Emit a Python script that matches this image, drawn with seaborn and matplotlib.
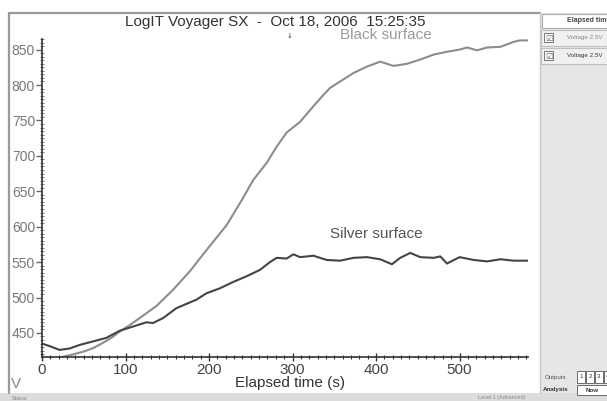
import matplotlib
matplotlib.use("Agg")
import matplotlib.pyplot as plt
from matplotlib.patches import Rectangle
from matplotlib.ticker import MultipleLocator
import seaborn as sns
import pandas as pd

# ---- data ----
black_time = [0, 20, 35, 51, 62, 73, 83, 93, 105, 117, 137, 157, 177, 197, 221, 239, 253, 269, 281, 293,
              309, 325, 337, 345, 357, 373, 389, 405, 421, 437, 453, 469, 485, 500, 509, 521, 533, 549, 565, 572, 582]
black_volt = [412, 415, 419, 424, 429, 436, 443, 452, 461, 471, 488, 511, 537, 567, 602, 637, 666, 690, 713, 733,
              748, 770, 786, 796, 805, 817, 826, 833, 827, 830, 836, 843, 847, 850, 853, 849, 853, 854, 861, 863, 863]
silver_time = [0, 10, 21, 33, 45, 61, 77, 93, 109, 125, 133, 145, 161, 177, 185, 197, 213, 229, 245, 261,
               273, 281, 293, 301, 309, 325, 341, 357, 373, 389, 405, 419, 429, 441, 453, 469, 477, 485, 500, 517,
               533, 549, 565, 582]
silver_volt = [435, 431, 426, 428, 433, 438, 443, 453, 459, 465, 464, 471, 485, 493, 497, 506, 513, 522, 530, 539,
               550, 556, 555, 561, 557, 559, 553, 552, 556, 557, 554, 547, 556, 563, 557, 556, 558, 548, 557, 553,
               551, 554, 552, 552]
x_ticks = [0, 100, 200, 300, 400, 500]
y_ticks = [450, 500, 550, 600, 650, 700, 750, 800, 850]
title = "LogIT Voyager SX  -  Oct 18, 2006  15:25:35"

df = pd.concat([
    pd.DataFrame({"t": black_time, "v": black_volt, "s": "Black surface"}),
    pd.DataFrame({"t": silver_time, "v": silver_volt, "s": "Silver surface"}),
])

sns.set_style("white")
plt.rcParams['font.family'] = ['Liberation Sans', 'DejaVu Sans']

W, H = 607, 401
fig = plt.figure(figsize=(W / 100, H / 100), dpi=100)
fig.patch.set_facecolor("white")


def fx(x):
    return x / W


def fy(y):
    return 1 - y / H


def rect(x0, y0, x1, y1, fc, ec="none", lw=0.8, z=0):
    fig.patches.append(Rectangle((fx(x0), fy(y1)), fx(x1) - fx(x0), fy(y0) - fy(y1),
                                 transform=fig.transFigure, facecolor=fc, edgecolor=ec,
                                 linewidth=lw, zorder=z))


# window chrome
rect(540, 13, 607, 393, "#e6e6e6")
rect(0, 393, 607, 401, "#dcdcdc")
fig.lines.append(plt.Line2D([fx(9), fx(9)], [fy(13), fy(393)], transform=fig.transFigure, color="#9a9a9a", lw=1.6))
fig.lines.append(plt.Line2D([fx(9), fx(540)], [fy(13), fy(13)], transform=fig.transFigure, color="#9a9a9a", lw=1.6))
fig.lines.append(plt.Line2D([fx(540), fx(540)], [fy(13), fy(393)], transform=fig.transFigure, color="#c8c8c8", lw=1.0))

# side panel
rect(542, 14, 607, 28, "white", "#aaaaaa")
fig.text(fx(567), fy(21), "Elapsed time", fontsize=5, fontweight="bold", color="#444444", va="center")
for yy, col in [(38, "#888888"), (56, "#333333")]:
    rect(541, yy - 8, 607, yy + 8, "#f0f0f0", "#c0c0c0")
    rect(544, yy - 5, 553, yy + 4, "white", "#777777", lw=0.7)
    fig.text(fx(545), fy(yy), "☑", fontsize=6, color="#666666", va="center", family=["DejaVu Sans"])
    fig.text(fx(567), fy(yy), "Voltage 2.5V", fontsize=4.5, color=col, va="center")
fig.text(fx(545), fy(377), "Outputs", fontsize=4.5, color="#555555", va="center")
for i in range(4):
    rect(577 + i * 9, 371, 585 + i * 9, 383, "white", "#555555", lw=0.6)
    fig.text(fx(581 + i * 9), fy(377), str(i + 1), fontsize=4.5, ha="center", va="center", color="#333333")
fig.text(fx(543), fy(390), "Analysis", fontsize=4.5, fontweight="bold", color="#333333", va="center")
rect(577, 385, 607, 395, "white", "#555555", lw=0.6)
fig.text(fx(592), fy(390), "Now", fontsize=4.5, fontweight="bold", ha="center", va="center", color="#333333")
fig.text(fx(12), fy(398), "Status", fontsize=4, color="#888888", va="center")
fig.text(fx(478), fy(398), "Level 1 (Advanced)", fontsize=4, color="#888888", va="center")

# plot area
ax = fig.add_axes([fx(42), fy(357), fx(528) - fx(42), fy(39) - fy(357)])
ax.set_facecolor("none")
sns.lineplot(data=df, x="t", y="v", hue="s", palette={"Black surface": "#8c8c8c", "Silver surface": "#444444"},
             linewidth=1.5, legend=False, ax=ax, estimator=None, sort=False)
ax.set_xlim(0, 582)
ax.set_ylim(416, 865)
ax.set_xticks(x_ticks)
ax.set_yticks(y_ticks)
ax.xaxis.set_minor_locator(MultipleLocator(10))
ax.yaxis.set_minor_locator(MultipleLocator(5))
ax.set_xlabel("")
ax.set_ylabel("")
for s in ["top", "right"]:
    ax.spines[s].set_visible(False)
for s in ["left", "bottom"]:
    ax.spines[s].set_color("#333333")
    ax.spines[s].set_linewidth(1.2)
ax.tick_params(axis="x", which="major", direction="inout", length=6, width=1, colors="#333333",
               labelsize=11, labelcolor="#444444", pad=1)
ax.tick_params(axis="y", which="major", direction="out", length=4, width=1, colors="#666666",
               labelsize=10, labelcolor="#777777", pad=1)
ax.tick_params(axis="x", which="minor", direction="inout", length=3, width=0.8, colors="#333333")
ax.tick_params(axis="y", which="minor", direction="inout", length=2.5, width=0.6, colors="#666666")
ax.tick_params(left=True, bottom=True, which="both")

# text labels
fig.text(fx(275), fy(22), title, fontsize=11, ha="center", va="center", color="#333333")
fig.text(fx(290), fy(36), "↓", fontsize=5, ha="center", va="center", color="#333333", family=["DejaVu Sans"])
fig.text(fx(386), fy(35), "Black surface", fontsize=11, ha="center", va="center", color="#9a9a9a")
fig.text(fx(376), fy(234), "Silver surface", fontsize=11, ha="center", va="center", color="#555555")
fig.text(fx(290), fy(383), "Elapsed time (s)", fontsize=11, ha="center", va="center", color="#333333")
fig.text(fx(11), fy(384), "V", fontsize=11, ha="left", va="center", color="#888888")

fig.savefig("out.png", dpi=100)
